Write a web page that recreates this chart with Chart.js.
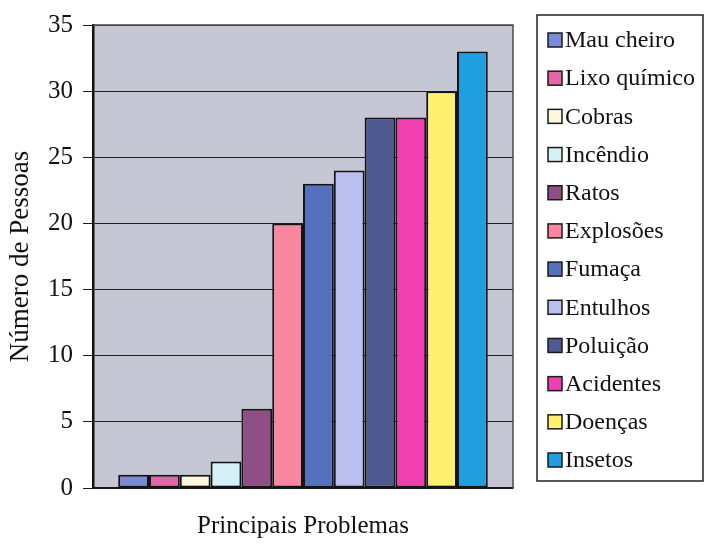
<!DOCTYPE html>
<html lang="pt">
<head>
<meta charset="utf-8">
<title>Principais Problemas</title>
<script src="https://cdn.jsdelivr.net/npm/chart.js@4/dist/chart.umd.min.js"></script>
<style>
  html, body { margin: 0; padding: 0; background: #ffffff; }
  #wrap { width: 706px; height: 544px; position: relative; }
</style>
</head>
<body>
<div id="wrap"><canvas id="chart" width="706" height="544"></canvas></div>
<script>
// Problem categories, in drawing order (left to right, legend top to bottom)
const problemas = [
  'Mau cheiro', 'Lixo químico', 'Cobras', 'Incêndio', 'Ratos', 'Explosões',
  'Fumaça', 'Entulhos', 'Poluição', 'Acidentes', 'Doenças', 'Insetos'
];
// Number of people who named each problem
const pessoas = [1, 1, 1, 2, 6, 20, 23, 24, 28, 28, 30, 33];
// Fill colour of each bar
const cores = [
  '#7b8ad6', '#e466a8', '#fdf8dc', '#d6f0f8', '#8d4f85', '#fa87a0',
  '#5471bd', '#b9c0f0', '#505a92', '#f23fb0', '#fff070', '#1f9fe0'
];
// Value axis
const yMin = 0, yMax = 35, yStep = 5;

const SERIF = '"Liberation Serif", "Times New Roman", serif';

// Grey plot background plus the thin frame on the top and right
const plotBackground = {
  id: 'plotBackground',
  beforeDraw(chart) {
    const { ctx, chartArea: a } = chart;
    ctx.save();
    ctx.fillStyle = '#c5c8d4';
    ctx.fillRect(a.left, a.top, a.right - a.left, a.bottom - a.top);
    ctx.restore();
  },
  afterDraw(chart) {
    const { ctx, chartArea: a } = chart;
    ctx.save();
    ctx.strokeStyle = '#4a4a4a';
    ctx.lineWidth = 1.5;
    ctx.beginPath();
    ctx.moveTo(a.left, a.top);
    ctx.lineTo(a.right, a.top);
    ctx.lineTo(a.right, a.bottom);
    ctx.stroke();
    ctx.restore();
  }
};

// Boxed legend on the right, one row per dataset
const boxedLegend = {
  id: 'boxedLegend',
  afterDraw(chart) {
    const { ctx } = chart;
    const box = { x: 537, y: 15, w: 166, h: 466 };
    const n = chart.data.datasets.length;
    const first = 40, last = 460;
    const step = (last - first) / (n - 1);
    ctx.save();
    ctx.fillStyle = '#ffffff';
    ctx.fillRect(box.x, box.y, box.w, box.h);
    ctx.strokeStyle = '#222222';
    ctx.lineWidth = 1.5;
    ctx.strokeRect(box.x, box.y, box.w, box.h);
    ctx.font = '24px ' + SERIF;
    ctx.textAlign = 'left';
    ctx.textBaseline = 'middle';
    chart.data.datasets.forEach((ds, i) => {
      const cy = first + i * step;
      ctx.fillStyle = ds.backgroundColor;
      ctx.fillRect(548, cy - 7, 14, 14);
      ctx.strokeStyle = '#1a1a1a';
      ctx.lineWidth = 1.5;
      ctx.strokeRect(548, cy - 7, 14, 14);
      ctx.fillStyle = '#111111';
      ctx.fillText(ds.label, 565, cy + 1);
    });
    ctx.restore();
  }
};

const datasets = problemas.map((nome, i) => ({
  label: nome,
  data: [pessoas[i]],
  backgroundColor: cores[i],
  borderColor: '#141414',
  borderWidth: 2,
  borderSkipped: false,
  categoryPercentage: 0.88,
  barPercentage: 1.0
}));

new Chart(document.getElementById('chart'), {
  type: 'bar',
  data: { labels: [''], datasets },
  options: {
    responsive: false,
    animation: false,
    devicePixelRatio: 1,
    layout: { padding: { left: 0, right: 193, top: 23, bottom: 0 } },
    plugins: {
      legend: { display: false },
      tooltip: { enabled: false }
    },
    scales: {
      x: {
        grid: { display: false, drawTicks: false },
        border: { display: true, color: '#141414', width: 1.5 },
        ticks: { display: false },
        title: {
          display: true,
          text: 'Principais Problemas',
          color: '#111111',
          font: { family: SERIF, size: 25 },
          padding: { top: 4, bottom: 3 }
        },
        afterFit(scale) { scale.height = 56; }
      },
      y: {
        min: yMin,
        max: yMax,
        ticks: {
          stepSize: yStep,
          color: '#111111',
          padding: 10,
          font: { family: SERIF, size: 25 }
        },
        grid: {
          color: '#1e1e1e',
          lineWidth: 1,
          tickLength: 10,
          drawOnChartArea: true
        },
        border: { display: true, color: '#111111', width: 2.5 },
        title: {
          display: true,
          text: 'Número de Pessoas',
          color: '#111111',
          font: { family: SERIF, size: 27 },
          padding: { top: 5, bottom: 4 }
        },
        afterFit(scale) { scale.width = 93; }
      }
    }
  },
  plugins: [plotBackground, boxedLegend]
});
</script>
</body>
</html>
